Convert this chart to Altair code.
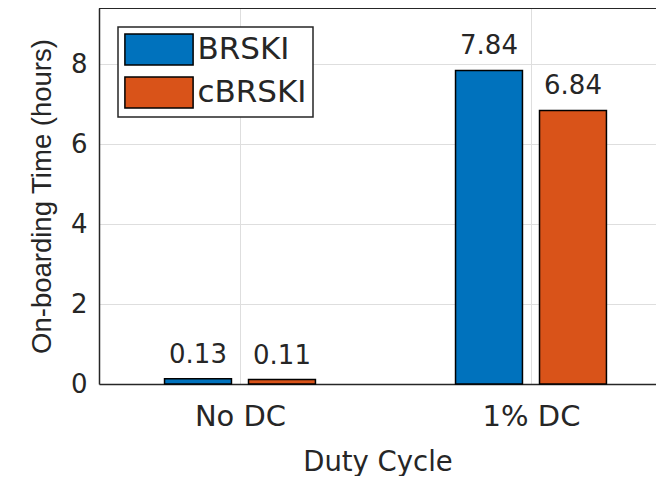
import altair as alt
import pandas as pd

categories = ["No DC", "1% DC"]
series = ["BRSKI", "cBRSKI"]
brski = [0.13, 7.84]
cbrski = [0.11, 6.84]
y_ticks = [0, 2, 4, 6, 8]
colors = ["#0072BD", "#D95319"]

rows = []
for i, c in enumerate(categories):
    rows.append({"cat": c, "idx": i + 1, "series": series[0], "sidx": 0, "value": brski[i]})
    rows.append({"cat": c, "idx": i + 1, "series": series[1], "sidx": 1, "value": cbrski[i]})
df = pd.DataFrame(rows)

OFF = 0.1443
HALF = 0.115
PLOT_W = 557
PLOT_H = 376
XMIN, XMAX = 0.5155, 2.4296
YMAX = 9.4
INK = "#262626"
GRID = "#dedede"

label_expr = " : ".join(
    [f"datum.value == {i + 1} ? '{c}'" for i, c in enumerate(categories)]
) + " : ''"

xscale = alt.Scale(domain=[XMIN, XMAX], nice=False, zero=False)
yscale = alt.Scale(domain=[0, YMAX], nice=False)

xaxis = alt.Axis(
    values=[1, 2], labelExpr=label_expr, title="Duty Cycle", grid=True,
    gridColor=GRID, gridWidth=1, domainColor=INK, domainWidth=1.5, ticks=False,
    labelFont="DejaVu Sans", labelFontSize=29, labelColor=INK, labelPadding=18,
    titleFont="DejaVu Sans", titleFontSize=27.5, titleFontWeight="normal",
    titleColor=INK, titlePadding=17,
)
yaxis = alt.Axis(
    values=y_ticks, title="On-boarding Time (hours)", grid=True,
    gridColor=GRID, gridWidth=1, domainColor=INK, domainWidth=1.5, ticks=False,
    labelFont="DejaVu Sans", labelFontSize=26, labelColor=INK, labelPadding=12,
    titleFont="Liberation Sans", titleFontSize=27.5, titleFontWeight="normal",
    titleColor=INK, titlePadding=14,
)

base = alt.Chart(df).transform_calculate(
    xc=f"datum.idx + (datum.sidx == 0 ? -{OFF} : {OFF})"
).transform_calculate(
    x0=f"datum.xc - {HALF}", x1=f"datum.xc + {HALF}"
)

bars = base.mark_rect(stroke="black", strokeWidth=1.5, opacity=1).encode(
    x=alt.X("x0:Q", scale=xscale, axis=xaxis),
    x2="x1:Q",
    y=alt.Y("value:Q", scale=yscale, axis=yaxis),
    y2=alt.datum(0),
    color=alt.Color(
        "series:N",
        scale=alt.Scale(domain=series, range=colors),
        legend=alt.Legend(
            orient="none", legendX=19, legendY=19, title=None,
            symbolType="M-2.2,-1H2.2V1H-2.2Z", symbolSize=961,
            symbolOffset=18.5, labelOffset=22,
            labelFont="DejaVu Sans", labelFontSize=31, labelColor=INK,
            rowPadding=6, padding=6, strokeColor=INK, fillColor="white",
            symbolStrokeColor="black", symbolStrokeWidth=1.5, symbolOpacity=1,
        ),
    ),
)

texts = base.mark_text(
    dy=-16, baseline="alphabetic", font="DejaVu Sans", fontSize=26, color=INK
).encode(
    x=alt.X("xc:Q", scale=xscale, axis=xaxis),
    y=alt.Y("value:Q", scale=yscale, axis=yaxis),
    text=alt.Text("value:Q", format=".2f"),
)

top = alt.Chart(pd.DataFrame({"value": [YMAX]})).mark_rule(
    color=INK, strokeWidth=2
).encode(
    y=alt.Y("value:Q", scale=yscale, axis=yaxis),
    x=alt.value(0), x2=alt.value(PLOT_W),
)

chart = alt.layer(bars, texts, top).properties(
    width=PLOT_W, height=PLOT_H,
    autosize=alt.AutoSizeParams(type="none"),
    padding={"left": 91, "top": 0, "right": 0, "bottom": 92},
).configure_view(stroke=None).configure_legend(strokeWidth=1.5)

chart.save("out.html", embed_options={"renderer": "svg", "actions": False})
